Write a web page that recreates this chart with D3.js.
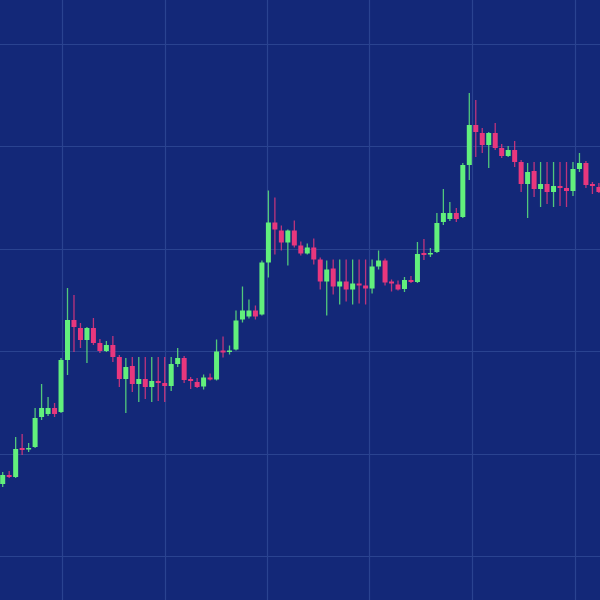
<!DOCTYPE html>
<html lang="en">
<head>
    <meta charset="UTF-8">
    <title>Candles</title>
    <script src="https://d3js.org/d3.v7.min.js"></script>
    <style>
        body { margin: 0; background: #132878; }
    </style>
</head>
<body>
<div id="chart"></div>

<script>

// candle values, one entry per candle (left to right)
var opens = [116, 125, 123, 152, 151, 153, 183, 186, 192, 188, 240, 280, 272, 260, 272, 257, 249, 255, 243, 221, 234, 216, 221, 213, 219, 217, 214, 236, 242, 221, 218,
    213.5, 222.5, 220.5, 249.5, 248.5, 250.5, 280.5, 283.5, 289.5, 285.5, 337.5, 377.5, 369.5, 357.5, 369.5, 354.5, 346.5, 352.5, 340.5, 318.5, 331.5, 313.5, 318.5, 310.5, 316.5, 314.5, 311.5, 333.5, 339.5, 318.5, 315.5,
    311, 320, 318, 347, 346, 348, 378, 381, 387, 383, 435, 475, 467, 455, 467, 452, 444, 450, 438, 416, 429, 411, 416, 408, 414, 412, 409, 431, 437, 416, 413];
var closes = [125, 123, 151, 150, 152, 182, 192, 192, 186, 240, 280, 273, 260, 272, 257, 249, 255, 243, 221, 233, 216, 221, 213, 219, 217, 214, 236, 242, 220, 219, 213,
    222.5, 220.5, 248.5, 247.5, 249.5, 279.5, 289.5, 289.5, 283.5, 337.5, 377.5, 370.5, 357.5, 369.5, 354.5, 346.5, 352.5, 340.5, 318.5, 330.5, 313.5, 318.5, 310.5, 316.5, 314.5, 311.5, 333.5, 339.5, 317.5, 316.5, 310.5,
    320, 318, 346, 345, 347, 377, 387, 387, 381, 435, 475, 468, 455, 467, 452, 444, 450, 438, 416, 428, 411, 416, 408, 414, 412, 409, 431, 437, 415, 414, 408];
var highs = [128, 129, 163, 166, 157, 192, 216, 203, 197, 242, 312, 305, 277, 273, 282, 261, 259, 264, 245, 242, 243, 243, 243, 243, 243, 243, 243, 252, 244, 223, 222,
    225.5, 226.5, 260.5, 263.5, 254.5, 289.5, 313.5, 300.5, 294.5, 339.5, 409.5, 402.5, 374.5, 370.5, 379.5, 358.5, 356.5, 361.5, 342.5, 339.5, 340.5, 340.5, 340.5, 340.5, 340.5, 340.5, 340.5, 349.5, 341.5, 320.5, 319.5,
    323, 324, 358, 361, 352, 387, 411, 398, 392, 437, 507, 500, 472, 468, 477, 456, 454, 459, 440, 437, 438, 438, 438, 438, 438, 438, 438, 447, 439, 418, 417];
var lows = [113, 122, 122, 145, 148, 152, 180, 184, 183, 187, 225, 248, 252, 237, 255, 247, 248, 238, 213, 187, 208, 198, 201, 198, 199, 198, 209, 233, 217, 211, 212,
    210.5, 219.5, 219.5, 242.5, 245.5, 249.5, 277.5, 281.5, 280.5, 284.5, 322.5, 345.5, 349.5, 334.5, 352.5, 344.5, 345.5, 335.5, 310.5, 284.5, 305.5, 295.5, 298.5, 295.5, 296.5, 295.5, 306.5, 330.5, 314.5, 308.5, 309.5,
    308, 317, 317, 340, 343, 347, 375, 379, 378, 382, 420, 443, 447, 432, 450, 442, 443, 433, 408, 382, 403, 393, 396, 393, 394, 393, 404, 428, 412, 406, 407];

// grid positions (candle index on x, price on y)
var gridX = [9.15, 24.97, 40.79, 56.58, 72.42, 88.26];
var gridY = [44.3, 146.5, 249.3, 351.5, 454, 556.5];

var width = 600, height = 600;
var green = "#62f07c", pink = "#e8377d";

var candles = opens.map(function(o, i) {
    return {i: i, open: o, close: closes[i], high: highs[i], low: lows[i]};
});

var x = d3.scaleLinear().domain([0, candles.length - 1]).range([2.7, 598.9]);
var y = d3.scaleLinear().domain([0, 600]).range([height, 0]);

var svg = d3.select("#chart").append("svg")
    .attr("width", width)
    .attr("height", height);

svg.append("rect")
    .attr("width", width)
    .attr("height", height)
    .attr("fill", "#132878");

// grid lines
svg.append("g").selectAll("line")
    .data(gridX)
    .enter()
    .append("line")
    .attr("x1", function(d) { return Math.round(x(d)) + 0.5; })
    .attr("x2", function(d) { return Math.round(x(d)) + 0.5; })
    .attr("y1", 0)
    .attr("y2", height)
    .attr("stroke", "#2a4390")
    .attr("stroke-width", 1.2);

svg.append("g").selectAll("line")
    .data(gridY)
    .enter()
    .append("line")
    .attr("y1", function(d) { return Math.round(y(d)) + 0.5; })
    .attr("y2", function(d) { return Math.round(y(d)) + 0.5; })
    .attr("x1", 0)
    .attr("x2", width)
    .attr("stroke", "#2a4390")
    .attr("stroke-width", 1.2);

function colour(d) { return d.close >= d.open ? green : pink; }

// wicks
svg.append("g").selectAll("line")
    .data(candles)
    .enter()
    .append("line")
    .attr("x1", function(d) { return x(d.i); })
    .attr("x2", function(d) { return x(d.i); })
    .attr("y1", function(d) { return y(d.high); })
    .attr("y2", function(d) { return y(d.low); })
    .attr("stroke", colour)
    .attr("stroke-opacity", 0.8)
    .attr("stroke-width", 1.3);

// bodies
var bw = 5;
svg.append("g").selectAll("rect")
    .data(candles)
    .enter()
    .append("rect")
    .attr("x", function(d) { return x(d.i) - bw / 2; })
    .attr("y", function(d) { return y(Math.max(d.open, d.close)); })
    .attr("width", bw)
    .attr("height", function(d) { return Math.max(1.5, Math.abs(y(d.open) - y(d.close))); })
    .attr("fill", colour);

</script>
</body>
</html>
